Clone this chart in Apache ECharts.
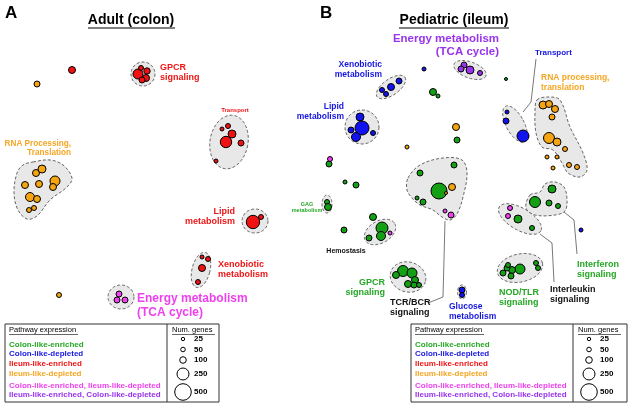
<!DOCTYPE html>
<html><head><meta charset="utf-8">
<script src="https://cdn.jsdelivr.net/npm/echarts@6/dist/echarts.min.js"></script>
<style>html,body{margin:0;padding:0;background:#fff}#c{width:630px;height:408px}</style>
</head><body><div id="c"></div>
<script>
// ---- node data: [x, y, radius] in chart units ----
const aRed = [[72,70,3.5],[138,74,5],[141,68,2.5],[147,71,3.2],[146,78,3.5],[142,80,3],
  [226,142,5.7],[232,134,4],[228,126,2.5],[222,129,2],[241,143,3],[216,161,2],
  [253,222,6.7],[261,217,2.5],
  [202,257,2],[208,259,2.5],[202,268,3.5],[198,282,2.5]];
const aOrange = [[37,84,3],[36,173,3.5],[42,169,4],[39,184,3.5],[25,185,3.5],[55,181,5],[53,187,3.5],
  [30,197,4.5],[37,199,3.5],[34,208,2.5],[29,210,2.5],[59,295,2.5]];
const aMagenta = [[119,294,3],[117,300,3],[125,300,3]];

const bGreen = [[506,79,1.5],[433,92,3.5],[438,96,2],[457,140,3],[329,164,3],[345,182,2],[356,185,3],
  [327,202,2.5],[328,207,3.5],[439,191,8],[454,165,3],[420,173,3],[417,198,2],[423,202,3],
  [373,217,3.5],[382,228,6],[381,236,4.5],[369,238,3],[344,230,3],
  [403,271,5.5],[412,273,5],[396,275,3.5],[415,280,3.5],[408,284,3.5],[414,285,3],[419,285,2.5],
  [552,189,4],[535,202,5.5],[549,203,3],[558,206,2.5],
  [518,219,4],[532,228,2.5],
  [520,269,5],[512,270,3.5],[507,268,3],[503,273,3],[511,276,3],[508,265,2.5],[536,263,2.5],[538,268,2.5]];
const bBlue = [[424,69,2],[399,81,3],[391,87,3.5],[382,90,2.5],[386,94,2.5],
  [362,128,7],[360,117,4],[351,130,3],[356,137,4.5],[373,133,2.5],
  [507,112,2],[506,121,3],[523,136,6],[462,290,3],[462,295,2.5],[581,230,2]];
const bOrange = [[456,127,3.5],[407,147,2],[452,187,3.5],[446,193,1.5],
  [543,105,4],[549,104,3.5],[555,109,3.5],[552,117,3],[549,138,5.5],[557,142,4],[565,149,2.5],
  [547,157,2],[557,157,2],[553,168,2],[569,165,2.5],[577,167,2.5]];
const bMagenta = [[330,159,2.5],[445,211,2],[451,215,3],[390,233,2],[510,208,2.5],[508,216,2.5]];
const bPurple = [[464,65,3],[461,69,3],[470,70,4],[480,73,2.5]];

// ---- cluster hulls ----
// ellipses: [cx, cy, rx, ry, rotationDeg]
const hullEllipses = [[143,74,12,12,0],[229,142,19,27,10],[255,221,13,12,0],[201,270,9,18,14],[121,297,13,12,0],
  [391,87,17,8,-35],[362,127,17,17,0],[470,70,17,8,20],[327,204,5,9,0],[380,232,17,11,-30],
  [408,277,18,15,15],[462,292,4.5,7,0],[515,124,9,20,-28],[520,268,23,14,-12],[520,219,24,11,30]];
// free-form hulls: lists of [x, y]
const hullBlobs = [
  [[33,162],[50,160],[63,165],[72,178],[67,187],[50,200],[37,216],[27,219],[18,210],[14,193],[17,173],[23,165]],
  [[408,178],[420,165],[443,158],[462,160],[467,173],[463,197],[457,214],[450,220],[442,217],[433,210],[420,205],[412,198],[407,190]],
  [[537,100],[548,97],[560,100],[570,127],[583,153],[587,170],[580,177],[568,173],[562,163],[553,150],[542,147],[536,133],[535,113]],
  [[530,195],[540,192],[545,184],[555,182],[564,187],[567,200],[565,211],[555,215],[535,215],[526,208]]
];
// leader lines
const leaders = [
  [[536,59],[531,102],[523,112]],
  [[445,221],[443,297],[428,303]],
  [[540,234],[552,243],[554,282]],
  [[564,212],[574,220],[577,254]]
];
// annotations: [x, y, text, colourKey, size, align]
const labels = [
  [160,73,'GPCR\nsignaling','red',9,'left'],
  [235,110,'Transport','red',6,'center'],
  [235,217,'Lipid\nmetabolism','red',9,'right'],
  [218,270,'Xenobiotic\nmetabolism','red',9,'left'],
  [71,148,'RNA Processing,\nTranslation','orange',8.2,'right'],
  [137,306,'Energy metabolism\n(TCA cycle)','magenta',12,'left'],
  [499,45,'Energy metabolism\n(TCA cycle)','purple',11.5,'right'],
  [382,70,'Xenobiotic\nmetabolism','blue',8.5,'right'],
  [344,112,'Lipid\nmetabolism','blue',8.5,'right'],
  [535,53,'Transport','blue',8,'left'],
  [541,83,'RNA processing,\ntranslation','orange',8.5,'left'],
  [307,207,'GAG\nmetabolism','green',5.5,'center'],
  [346,251,'Hemostasis','black',7,'center'],
  [385,288,'GPCR\nsignaling','green',9,'right'],
  [390,308,'TCR/BCR\nsignaling','black',9,'left'],
  [449,312,'Glucose\nmetabolism','blue',8.5,'left'],
  [499,298,'NOD/TLR\nsignaling','green',9,'left'],
  [550,295,'Interleukin\nsignaling','black',9,'left'],
  [577,270,'Interferon\nsignaling','green',9,'left']
];
const legendNames = ['Colon-like-enriched','Colon-like-depleted','Ileum-like-enriched','Ileum-like-depleted',
  'Colon-like-enriched, Ileum-like-depleted','Ileum-like-enriched, Colon-like-depleted'];
const legendKeys = ['green','blue','red','orange','magenta','purple'];
const sizeLabels = ['25','50','100','250','500'];
const sizeRadii = [1.7,2.3,3.3,6,8.3];

const nodeCol = {green:'#14a014',blue:'#1212ee',red:'#f01212',orange:'#f5a412',magenta:'#f03ef0',purple:'#9b33ee',black:'#111'};
const textCol = {green:'#25a825',blue:'#1515e0',red:'#ee1515',orange:'#f5a623',magenta:'#ee40ee',purple:'#9933ee',black:'#111'};
const FONT = '"Liberation Sans", Arial, Helvetica, sans-serif';

function scatter(data,key){
  return {type:'scatter',data:data,z:5,symbolSize:d=>d[2]*2,
    itemStyle:{color:nodeCol[key],borderColor:'#000',borderWidth:1,opacity:1},silent:true};
}
const hullStyle = {fill:'#e8e8e8',stroke:'#555',lineWidth:0.9,lineDash:[3,2]};
const series = [
  {type:'custom',z:1,data:hullEllipses,renderItem:function(p,api){
    const cx=api.value(0),cy=api.value(1),rx=api.value(2),ry=api.value(3),a=api.value(4)*Math.PI/180;
    const pts=[];
    for(let k=0;k<60;k++){const t=k/60*2*Math.PI;const ex=rx*Math.cos(t),ey=ry*Math.sin(t);
      pts.push(api.coord([cx+ex*Math.cos(a)-ey*Math.sin(a),cy+ex*Math.sin(a)+ey*Math.cos(a)]));}
    return {type:'polygon',shape:{points:pts},style:hullStyle};
  }},
  {type:'custom',z:1,data:hullBlobs.map((b,i)=>[i]),renderItem:function(p,api){
    const pts=hullBlobs[api.value(0)].map(q=>api.coord(q));
    return {type:'polygon',shape:{points:pts,smooth:0.35},style:hullStyle};
  }}
];
leaders.forEach(l=>series.push({type:'line',data:l,z:3,symbol:'none',silent:true,lineStyle:{color:'#555',width:0.8}}));
series.push(scatter(aRed,'red'),scatter(aOrange,'orange'),scatter(aMagenta,'magenta'),
  scatter(bGreen,'green'),scatter(bBlue,'blue'),scatter(bOrange,'orange'),scatter(bMagenta,'magenta'),scatter(bPurple,'purple'));
series.push({type:'custom',z:8,data:labels.map((l,i)=>[l[0],l[1],i]),renderItem:function(p,api){
  const l=labels[api.value(2)];const c=api.coord([l[0],l[1]]);
  return {type:'text',x:c[0],y:c[1],style:{text:l[2],fill:textCol[l[3]],font:'bold '+l[4]+'px '+FONT,
    align:l[5],verticalAlign:'middle',lineHeight:Math.round(l[4]*1.15)}};
}});

// ---- static frame: titles and legends ----
const graphic=[];
function txt(x,y,t,opt){graphic.push(Object.assign({type:'text',x:x,y:y,style:Object.assign({text:t,font:'bold 9px '+FONT,fill:'#000',verticalAlign:'middle'},opt||{})},{z:20}));}
function uline(x1,x2,y,w){graphic.push({type:'line',shape:{x1:x1,y1:y,x2:x2,y2:y},style:{stroke:'#000',lineWidth:w||0.8},z:20});}
txt(5,13,'A',{font:'bold 17px '+FONT});
txt(320,13,'B',{font:'bold 17px '+FONT});
txt(131,20,'Adult (colon)',{font:'bold 14px '+FONT,align:'center'});
uline(88,175,28,1.2);
txt(454,20,'Pediatric (ileum)',{font:'bold 14px '+FONT,align:'center'});
uline(399,509,28,1.2);
function legendBox(x0,x1,xd){
  graphic.push({type:'rect',shape:{x:x0,y:324,width:x1-x0,height:78},style:{fill:'#fff',stroke:'#333',lineWidth:1},z:19});
  graphic.push({type:'line',shape:{x1:xd,y1:324,x2:xd,y2:402},style:{stroke:'#333',lineWidth:1},z:20});
  txt(x0+4,330,'Pathway expression',{font:'7.5px '+FONT});
  uline(x0+4,x0+73,334.5,0.6);
  const ys=[345,354,364,374,386,395];
  legendNames.forEach((n,i)=>txt(x0+4,ys[i],n,{font:'bold 8px '+FONT,fill:textCol[legendKeys[i]]}));
  txt(xd+5,330,'Num. genes',{font:'7.5px '+FONT});
  uline(xd+5,xd+48,334.5,0.6);
  const cy=[339,349.5,360,374,392];
  sizeLabels.forEach((s,i)=>{
    graphic.push({type:'circle',shape:{cx:xd+16,cy:cy[i],r:sizeRadii[i]},style:{fill:'#fff',stroke:'#000',lineWidth:1},z:20});
    txt(xd+27,cy[i],s,{font:'bold 8px '+FONT});
  });
}
legendBox(5,219,167);
legendBox(411,627,573);

const chart=echarts.init(document.getElementById('c'),null,{renderer:'canvas'});
chart.setOption({
  animation:false,
  grid:{left:0,right:0,top:0,bottom:0},
  xAxis:{type:'value',min:0,max:630,show:false},
  yAxis:{type:'value',min:0,max:408,inverse:true,show:false},
  series:series,
  graphic:graphic
});
</script></body></html>
